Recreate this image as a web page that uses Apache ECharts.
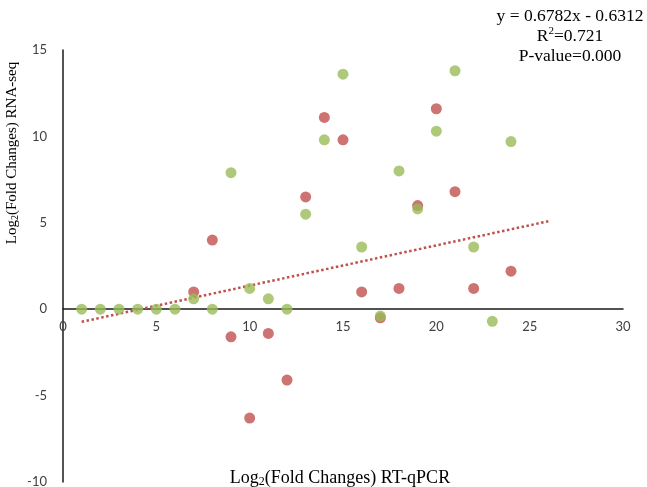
<!DOCTYPE html>
<html>
<head>
<meta charset="utf-8">
<title>RT-qPCR vs RNA-seq</title>
<script src="https://cdn.jsdelivr.net/npm/echarts@6/dist/echarts.min.js"></script>
<style>
  html, body { margin: 0; padding: 0; background: #fff; }
  #chart { width: 647px; height: 487px; }
</style>
</head>
<body>
<div id="chart"></div>
<script>
// Gene index (x) and log2 fold change from RNA-seq (y)
const redX = [7, 8, 9, 10, 11, 12, 13, 14, 15, 16, 17, 18, 19, 20, 21, 22, 24];
const redY = [1.0, 4.0, -1.6, -6.3, -1.4, -4.1, 6.5, 11.1, 9.8, 1.0, -0.5, 1.2, 6.0, 11.6, 6.8, 1.2, 2.2];

const greenX = [1, 2, 3, 4, 5, 6, 7, 8, 9, 10, 11, 12, 13, 14, 15, 16, 17, 18, 19, 20, 21, 22, 23, 24];
const greenY = [0, 0, 0, 0, 0, 0, 0.6, 0, 7.9, 1.2, 0.6, 0, 5.5, 9.8, 13.6, 3.6, -0.4, 8.0, 5.8, 10.3, 13.8, 3.6, -0.7, 9.7];

// Linear trend line end points
const trendX = [1, 26];
const trendY = [-0.73, 5.09];

// Axis ranges and tick steps
const xRange = [0, 30, 5];
const yRange = [-10, 15, 5];

const equationLines = ['y = 0.6782x - 0.6312', 'R{sup|2}=0.721', 'P-value=0.000'];

const pairs = (xs, ys) => xs.map((x, i) => [x, ys[i]]);

const serif = '"Liberation Serif", "Times New Roman", serif';
const tickFont = 'Lato, "Liberation Sans", sans-serif';

const chart = echarts.init(document.getElementById('chart'), null, { renderer: 'canvas' });

chart.setOption({
  animation: false,
  backgroundColor: '#ffffff',
  grid: { left: 63, right: 24, top: 50, bottom: 5, containLabel: false, outerBoundsMode: 'none' },
  xAxis: {
    type: 'value',
    min: xRange[0], max: xRange[1], interval: xRange[2],
    axisLine: { show: true, onZero: false, lineStyle: { color: '#1a1a1a', width: 1.5 } },
    axisTick: { show: false },
    splitLine: { show: false },
    axisLabel: { color: '#404040', fontFamily: tickFont, fontSize: 13, margin: 11 }
  },
  yAxis: {
    type: 'value',
    min: yRange[0], max: yRange[1], interval: yRange[2],
    axisLine: { show: true, onZero: false, lineStyle: { color: '#1a1a1a', width: 1.5 } },
    axisTick: { show: false },
    splitLine: { show: false },
    axisLabel: { color: '#404040', fontFamily: tickFont, fontSize: 13, margin: 16 }
  },
  graphic: [
    {
      type: 'text',
      x: 340, y: 478,
      style: {
        text: 'Log{sub|2}(Fold Changes) RT-qPCR',
        font: '18px ' + serif,
        fill: '#000',
        align: 'center',
        verticalAlign: 'middle',
        rich: { sub: { fontSize: 12, fontFamily: serif, verticalAlign: 'bottom', padding: [7, 0, 0, 0] } }
      }
    },
    {
      type: 'text',
      x: 12, y: 153,
      rotation: Math.PI / 2,
      style: {
        text: 'Log{sub|2}(Fold Changes) RNA-seq',
        font: '15px ' + serif,
        fill: '#000',
        align: 'center',
        verticalAlign: 'middle',
        rich: { sub: { fontSize: 10, fontFamily: serif, verticalAlign: 'bottom', padding: [6, 0, 0, 0] } }
      }
    },
    {
      type: 'text',
      x: 570, y: 6,
      style: {
        text: equationLines.join('\n'),
        font: '17.5px ' + serif,
        fill: '#000',
        align: 'center',
        lineHeight: 20,
        rich: { sup: { fontSize: 11, fontFamily: serif, verticalAlign: 'top', padding: [0, 0, 6, 0] } }
      }
    }
  ],
  series: [
    {
      name: 'Trend',
      type: 'line',
      data: pairs(trendX, trendY),
      showSymbol: false,
      symbol: 'none',
      silent: true,
      z: 1,
      lineStyle: { color: '#C0504D', width: 2.5, type: [2.5, 2.5], cap: 'butt' }
    },
    {
      name: 'Red',
      type: 'scatter',
      data: pairs(redX, redY),
      symbolSize: 11,
      z: 2,
      itemStyle: { color: '#C0504D' }
    },
    {
      name: 'Green',
      type: 'scatter',
      data: pairs(greenX, greenY),
      symbolSize: 11,
      z: 3,
      itemStyle: { color: '#9BBB59' }
    }
  ]
});

// Move the x axis (line and labels) up to where y = 0 crosses the plot
const zeroPx = chart.convertToPixel({ yAxisIndex: 0 }, 0);
const bottomPx = chart.convertToPixel({ yAxisIndex: 0 }, yRange[0]);
chart.setOption({ xAxis: { offset: zeroPx - bottomPx } });
</script>
</body>
</html>
